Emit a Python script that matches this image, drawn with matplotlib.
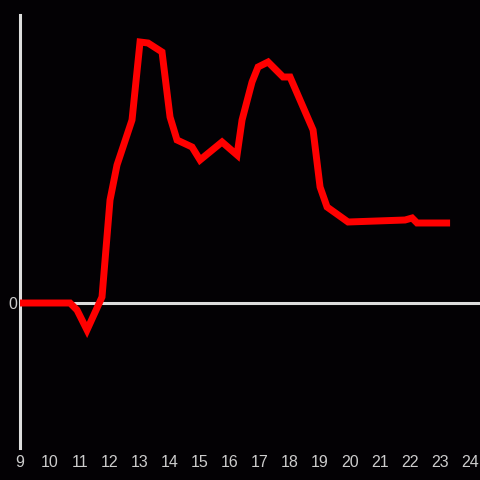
import matplotlib
matplotlib.use("Agg")
import matplotlib.pyplot as plt

plt.rcParams["font.family"] = ["Liberation Sans", "DejaVu Sans"]

# hour of day vs value (arbitrary units)
hours = [9.0, 10.667, 10.9, 11.233, 11.733, 12.0, 12.233, 12.733, 13.0, 13.267,
         13.733, 14.0, 14.233, 14.733, 15.0, 15.733, 16.233, 16.4, 16.733, 16.933,
         17.267, 17.767, 18.0, 18.767, 19.0, 19.233, 19.933, 21.833, 22.067, 22.233,
         23.333]
values = [0, 0, -7, -27, 6, 103, 138, 183, 261, 260,
          251, 186, 163, 156, 143, 161, 148, 183, 221, 236,
          241, 226, 226, 173, 116, 96, 81, 83, 85, 80,
          80]
xticks = list(range(9, 25))

bg = "#030104"
fig = plt.figure(figsize=(4.8, 4.8), dpi=100, facecolor=bg)
ax = fig.add_axes([20 / 480, 32 / 480, 460 / 480, 433 / 480], facecolor=bg)

ax.plot(hours, values, color="#ff0000", lw=5, solid_joinstyle="miter", solid_capstyle="butt", zorder=3)
ax.axhline(0, color="#dddddd", lw=2.2, zorder=2)

ax.set_xlim(9, 24.33)
ax.set_ylim(-145, 288)

for s in ["top", "right", "bottom"]:
    ax.spines[s].set_visible(False)
ax.spines["left"].set_color("#dddddd")
ax.spines["left"].set_linewidth(2.2)

ax.set_xticks(xticks)
ax.set_xticklabels([str(t) for t in xticks])
ax.set_yticks([0])
ax.set_yticklabels(["0"])
ax.tick_params(length=0, colors="#cccccc", labelsize=11.5)
ax.tick_params(axis="x", pad=5)
ax.tick_params(axis="y", pad=2)

fig.savefig("out.png", dpi=100, facecolor=bg)
